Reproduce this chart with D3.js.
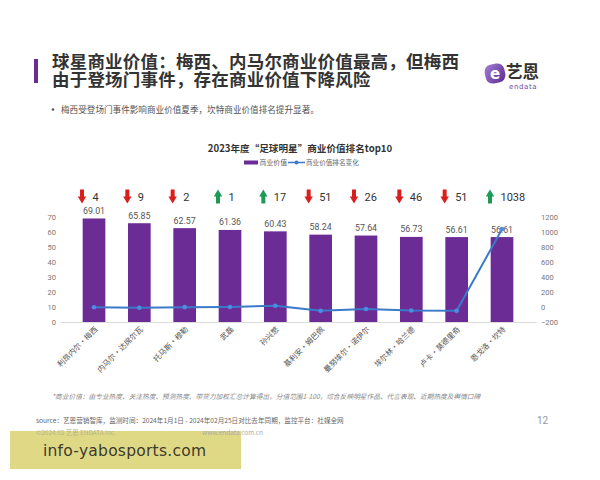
<!DOCTYPE html>
<html><head><meta charset="utf-8">
<script src="https://cdn.jsdelivr.net/npm/d3@7"></script>
<style>
html,body{margin:0;padding:0;background:#fff;}
svg{display:block;font-family:"Noto Sans CJK SC","Noto Sans",sans-serif;}
</style></head>
<body>
<script>
const players = ["利昂内尔·梅西","内马尔·达席尔瓦","托马斯·穆勒","武磊","孙兴慜","基利安·姆巴佩","曼努埃尔·诺伊尔","埃尔林·哈兰德","卢卡·莫德里奇","恩戈洛·坎特"];
const values = [69.01, 65.85, 62.57, 61.36, 60.43, 58.24, 57.64, 56.73, 56.61, 56.61];
const rankChange = [-4, -9, -2, 1, 17, -51, -26, -46, -51, 1038];
const leftTicks = [0, 10, 20, 30, 40, 50, 60, 70];
const rightTicks = [-200, 0, 200, 400, 600, 800, 1000, 1200];
const titleLines = ["球星商业价值：梅西、内马尔商业价值最高，但梅西", "由于登场门事件，存在商业价值下降风险"];
const bulletText = "梅西受登场门事件影响商业价值夏季，坎特商业价值排名提升显著。";
const chartTitle = "2023年度“足球明星”商业价值排名top10";
const legendLabels = ["商业价值", "商业价值排名变化"];
const footnote = "*商业价值：由专业热度、关注热度、预测热度、带货力加权汇总计算得出，分值范围1-100，综合反映明星作品、代言表现、近期热度及舆情口碑";
const sourceText = "source：艺恩营销智库，监测时间：2024年1月1日 - 2024年02月25日对比去年同期，监控平台：社媒全网";

const W = 600, H = 480;
const svg = d3.select("body").append("svg").attr("width", W).attr("height", H);
svg.append("rect").attr("width", W).attr("height", H).attr("fill", "#fff");

// header
svg.append("rect").attr("x", 34).attr("y", 59).attr("width", 4).attr("height", 24).attr("fill", "#6b2c96");
const tt = svg.append("text").attr("x", 52).attr("y", 67.5)
  .attr("font-size", 17.5).attr("font-weight", 700).attr("fill", "#333").attr("letter-spacing", 0.2);
tt.selectAll("tspan").data(titleLines).enter().append("tspan")
  .attr("x", 52).attr("dy", (d, i) => i === 0 ? 0 : 18).text(d => d);

// logo
const defs = svg.append("defs");
const lg = defs.append("linearGradient").attr("id", "lg").attr("x1", 0).attr("y1", 0).attr("x2", 1).attr("y2", 1);
lg.append("stop").attr("offset", 0).attr("stop-color", "#a57fd8");
lg.append("stop").attr("offset", 1).attr("stop-color", "#5b2a8e");
svg.append("rect").attr("x", 485).attr("y", 64).attr("width", 20).attr("height", 19).attr("rx", 7)
  .attr("fill", "url(#lg)").attr("transform", "rotate(-12 495 73.5)");
svg.append("text").attr("x", 495).attr("y", 79).attr("text-anchor", "middle").attr("font-size", 15)
  .attr("font-weight", 700).attr("fill", "#fff").attr("font-family", "DejaVu Sans").text("e");
svg.append("text").attr("x", 506).attr("y", 77.5).attr("font-size", 16.5).attr("font-weight", 700)
  .attr("fill", "#333").text("艺恩");
svg.append("text").attr("x", 509).attr("y", 88.5).attr("font-size", 7).attr("fill", "#6b4a9e")
  .attr("letter-spacing", 0.6).attr("font-family", "DejaVu Sans").text("endata");

// bullet
svg.append("circle").attr("cx", 53).attr("cy", 109.5).attr("r", 1.3).attr("fill", "#555");
svg.append("text").attr("x", 61).attr("y", 112.5).attr("font-size", 8.6).attr("fill", "#555").text(bulletText);

// chart title & legend
svg.append("text").attr("x", 300).attr("y", 151.5).attr("text-anchor", "middle").attr("font-size", 9.6)
  .attr("font-weight", 600).attr("fill", "#333").text(chartTitle);
svg.append("rect").attr("x", 244).attr("y", 160.5).attr("width", 14).attr("height", 4).attr("fill", "#6b2c96");
svg.append("text").attr("x", 259.5).attr("y", 164.8).attr("font-size", 6.9).attr("fill", "#666").text(legendLabels[0]);
svg.append("line").attr("x1", 288).attr("x2", 305).attr("y1", 162.5).attr("y2", 162.5).attr("stroke", "#3a7ac8").attr("stroke-width", 1.5);
svg.append("circle").attr("cx", 296.5).attr("cy", 162.5).attr("r", 2).attr("fill", "#3a7ac8");
svg.append("text").attr("x", 306).attr("y", 164.8).attr("font-size", 6.6).attr("fill", "#666").text(legendLabels[1]);

// scales
const x = d3.scaleBand().domain(players).range([60, 536]).padding(0.5);
const yL = d3.scaleLinear().domain([0, 70]).range([322, 217]);
const yR = d3.scaleLinear().domain([-200, 1200]).range([322, 217]);

// axes
const axL = svg.append("g").attr("transform", "translate(60,0)")
  .call(d3.axisLeft(yL).tickValues(leftTicks).tickSize(0).tickPadding(4).tickFormat(d3.format("d")));
const axR = svg.append("g").attr("transform", "translate(536,0)")
  .call(d3.axisRight(yR).tickValues(rightTicks).tickSize(0).tickPadding(5).tickFormat(d3.format("d")));
[axL, axR].forEach(g => {
  g.select(".domain").remove();
  g.selectAll("text").attr("font-size", 7.5).attr("fill", "#777").attr("font-family", "Roboto, sans-serif");
});
const axB = svg.append("g").attr("transform", "translate(0,322)")
  .call(d3.axisBottom(x).tickSize(0).tickPadding(0));
axB.select(".domain").attr("stroke", "#ddd");
axB.selectAll("text").attr("font-size", 7.6).attr("fill", "#555")
  .attr("font-family", "'Noto Sans CJK SC'")
  .attr("text-anchor", "end").attr("dy", 0)
  .attr("transform", "translate(4,8) rotate(-45)");

// bars
svg.selectAll("rect.bar").data(values).enter().append("rect").attr("class", "bar")
  .attr("x", (d, i) => x(players[i])).attr("width", x.bandwidth())
  .attr("y", d => yL(d)).attr("height", d => yL(0) - yL(d)).attr("fill", "#6b2c96");
svg.selectAll("text.val").data(values).enter().append("text").attr("class", "val")
  .attr("x", (d, i) => x(players[i]) + x.bandwidth() / 2).attr("y", d => yL(d) - 4.5)
  .attr("text-anchor", "middle").attr("font-size", 8.8).attr("fill", "#555")
  .attr("font-family", "Roboto, sans-serif").text(d => d.toFixed(2));

// line
const line = d3.line().x((d, i) => x(players[i]) + x.bandwidth() / 2).y(d => yR(d));
svg.append("path").datum(rankChange).attr("d", line).attr("fill", "none")
  .attr("stroke", "#3a7ac8").attr("stroke-width", 2);
svg.selectAll("circle.pt").data(rankChange).enter().append("circle").attr("class", "pt")
  .attr("cx", (d, i) => x(players[i]) + x.bandwidth() / 2).attr("cy", d => yR(d))
  .attr("r", 2.3).attr("fill", "#4f8be0");

// arrows and rank change numbers
const ay = 196.5;
const arrowG = svg.selectAll("g.arr").data(rankChange).enter().append("g").attr("class", "arr")
  .attr("transform", (d, i) => `translate(${x(players[i]) + x.bandwidth() / 2 - 12},${ay})`);
arrowG.append("path")
  .attr("d", d => d < 0
    ? "M-2,-7 L2,-7 L2,0 L4.2,0 L0,7 L-4.2,0 L-2,0 Z"
    : "M-2,7 L2,7 L2,0 L4.2,0 L0,-7 L-4.2,0 L-2,0 Z")
  .attr("fill", d => d < 0 ? "#d91e1e" : "#1b9a58");
svg.selectAll("text.rc").data(rankChange).enter().append("text").attr("class", "rc")
  .attr("x", (d, i) => x(players[i]) + x.bandwidth() / 2 - 1.5).attr("y", ay + 4)
  .attr("font-size", 11).attr("fill", "#333").attr("font-family", "Roboto, sans-serif")
  .text(d => Math.abs(d));

// footer
svg.append("text").attr("x", 52).attr("y", 399).attr("font-size", 6.7).attr("font-style", "italic")
  .attr("fill", "#888").text(footnote);
svg.append("text").attr("x", 36).attr("y", 423).attr("font-size", 6.6).attr("fill", "#666").text(sourceText);
svg.append("text").attr("x", 537).attr("y", 424).attr("font-size", 10).attr("fill", "#999")
  .attr("font-family", "Roboto, sans-serif").text("12");

// watermark box
svg.append("rect").attr("x", 10).attr("y", 431).attr("width", 231).attr("height", 38).attr("fill", "#dfd986");
svg.append("text").attr("x", 36).attr("y", 435).attr("font-size", 6.4).attr("fill", "#b8b28a").text("©2024.02  艺恩 ENDATA Inc.");
svg.append("text").attr("x", 202).attr("y", 435).attr("font-size", 6.4).attr("fill", "#aaa").text("www.endata.com.cn");
svg.append("text").attr("x", 43).attr("y", 455.5).attr("font-size", 15.5).attr("fill", "#3f3a2c")
  .attr("font-family", "'DejaVu Sans'").attr("textLength", 163).text("info-yabosports.com");
</script>
</body></html>
